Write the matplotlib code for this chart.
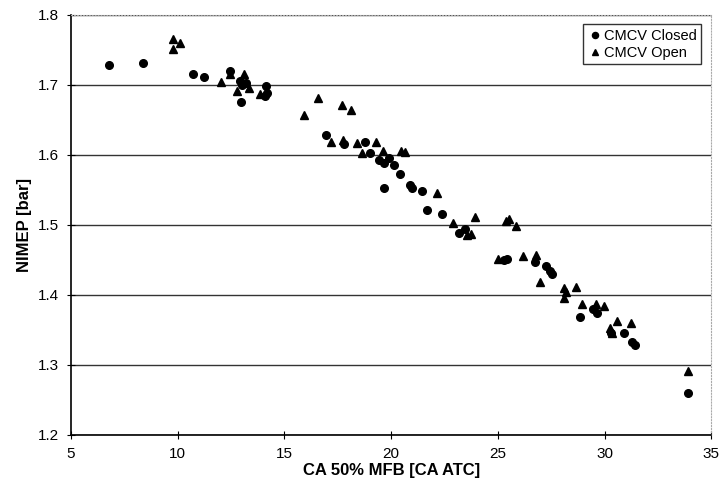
import matplotlib
matplotlib.use("Agg")
import matplotlib.pyplot as plt

# CMCV closed
closed_x = [6.8, 8.35, 10.7, 11.25, 12.47, 12.9, 13.0, 13.2, 12.95, 14.15, 14.2, 14.1,
            16.95, 17.8, 18.77, 19.0, 19.42, 19.65, 19.9, 20.12, 20.4, 19.65, 20.87, 21.0,
            21.43, 21.7, 22.4, 23.2, 23.48, 25.3, 25.45, 26.75, 27.26, 27.45, 27.54,
            28.85, 29.45, 29.64, 30.29, 30.9, 31.27, 31.41, 33.9]
closed_y = [1.729, 1.731, 1.715, 1.712, 1.72, 1.705, 1.700, 1.703, 1.675, 1.698, 1.688, 1.684,
            1.628, 1.616, 1.618, 1.603, 1.593, 1.589, 1.596, 1.586, 1.572, 1.553, 1.557, 1.553,
            1.548, 1.521, 1.516, 1.489, 1.494, 1.450, 1.451, 1.447, 1.441, 1.434, 1.430,
            1.369, 1.380, 1.374, 1.345, 1.346, 1.333, 1.328, 1.260]

# CMCV open
open_x = [9.76, 10.09, 9.76, 12.05, 12.47, 12.79, 13.12, 13.35, 13.87, 15.92, 16.57,
          17.69, 18.11, 17.18, 17.74, 18.39, 19.28, 18.63, 19.61, 20.45, 20.63,
          22.17, 22.92, 23.57, 23.76, 23.95, 25.39, 25.53, 25.86, 25.02, 26.19, 26.79,
          26.98, 28.1, 28.19, 28.1, 28.66, 28.94, 29.59, 29.97, 30.57, 31.22, 30.24,
          30.34, 33.93]
open_y = [1.766, 1.760, 1.752, 1.704, 1.715, 1.691, 1.715, 1.696, 1.687, 1.657, 1.681,
          1.672, 1.664, 1.618, 1.621, 1.617, 1.618, 1.603, 1.606, 1.606, 1.604,
          1.546, 1.502, 1.485, 1.487, 1.511, 1.505, 1.509, 1.499, 1.451, 1.455, 1.457,
          1.418, 1.410, 1.404, 1.396, 1.411, 1.387, 1.387, 1.384, 1.362, 1.360, 1.353,
          1.345, 1.291]

plt.rcParams["font.family"] = ["Liberation Sans", "DejaVu Sans"]

fig = plt.figure(figsize=(7.21, 4.98), dpi=100)
ax = fig.add_axes([0.0985, 0.127, 0.888, 0.843])

ax.plot(closed_x, closed_y, "o", color="black", markersize=5.5, label="CMCV Closed")
ax.plot(open_x, open_y, "^", color="black", markersize=5.5, label="CMCV Open")

ax.set_xlim(5, 35)
ax.set_ylim(1.2, 1.8)
ax.set_xticks(range(5, 36, 5))
ax.set_yticks([1.2, 1.3, 1.4, 1.5, 1.6, 1.7, 1.8])
ax.set_yticklabels(["1.2", "1.3", "1.4", "1.5", "1.6", "1.7", "1.8"])
ax.grid(axis="y", color="#333333", linewidth=1)
ax.set_axisbelow(True)

for s in ["top", "right"]:
    ax.spines[s].set_color("#aaaaaa")
    ax.spines[s].set_linestyle(":")
ax.spines["left"].set_linewidth(1.2)
ax.spines["bottom"].set_linewidth(1.2)
ax.tick_params(axis="both", direction="inout", length=6, labelsize=11, pad=6)

ax.set_xlabel("CA 50% MFB [CA ATC]", fontsize=12, fontweight="bold", labelpad=1)
ax.set_ylabel("NIMEP [bar]", fontsize=12, fontweight="bold", labelpad=4)

leg = ax.legend(loc="upper right", fontsize=10.5, frameon=True, fancybox=False,
                edgecolor="black", handletextpad=0.1, borderpad=0.3,
                labelspacing=0.2, handlelength=1.0, markerscale=0.8,
                bbox_to_anchor=(0.995, 0.995))
leg.get_frame().set_linewidth(1)

fig.savefig("out.png", dpi=100)
